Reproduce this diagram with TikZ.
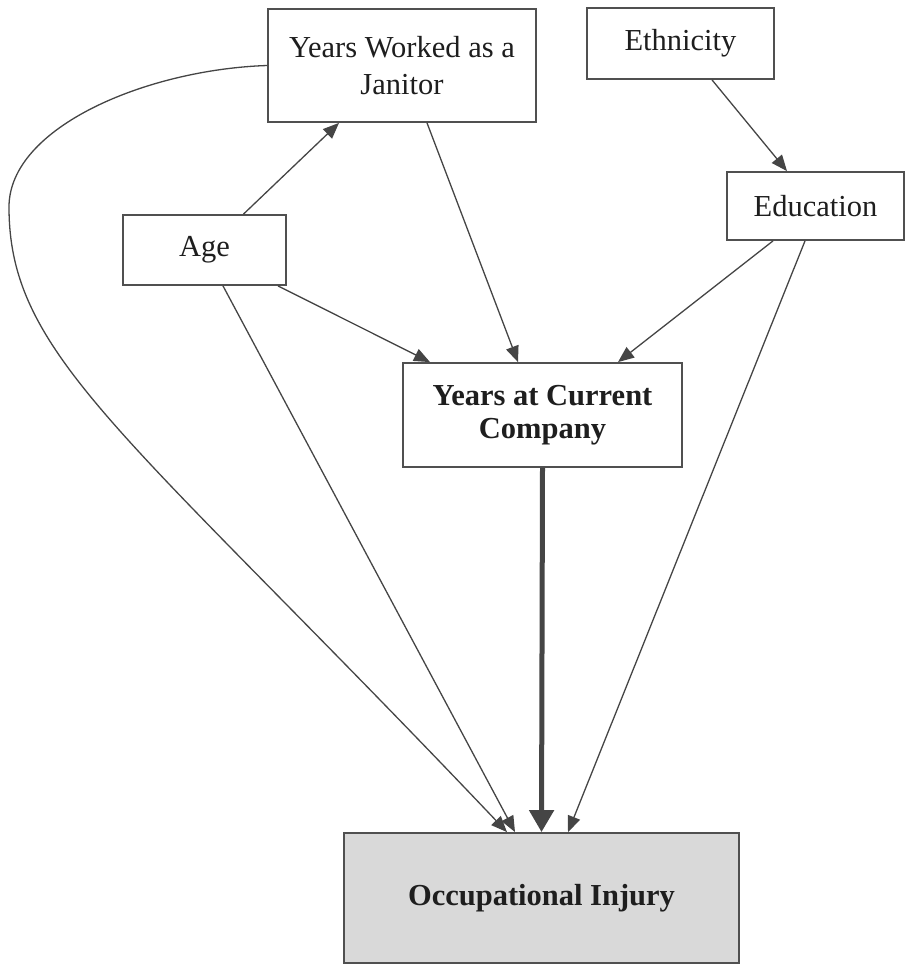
\documentclass[tikz,border=0pt]{standalone}
\usepackage{fontspec}
\setmainfont{Liberation Serif}
\usetikzlibrary{arrows.meta}

\definecolor{edge}{HTML}{454545}
\definecolor{frame}{HTML}{505050}
\definecolor{ink}{HTML}{1E1E1E}
\definecolor{outfill}{HTML}{D9D9D9}

\tikzset{
  var/.style={draw=frame, line width=1.8pt, fill=white, text=ink, align=center,
    inner sep=0pt, font=\fontsize{30.5}{37}\selectfont},
  keyvar/.style={var, font=\fontsize{30.5}{33}\selectfont\bfseries},
  link/.style={draw=edge, line width=1.3pt,
    -{Triangle[length=16pt, width=13pt]}},
  mainlink/.style={draw=edge, line width=5pt,
    -{Triangle[length=22pt, width=24pt]}}
}

\begin{document}
\begin{tikzpicture}[x=1pt, y=-1pt]
\useasboundingbox (0,0) rectangle (907,965);

% variables
\node[var, minimum width=268pt, minimum height=113pt] (jan) at (402,65.5)
  {Years Worked as a\\Janitor};
\node[var, minimum width=187pt, minimum height=71pt] (eth) at (680.5,43.5) {Ethnicity};
\node[var, minimum width=177pt, minimum height=68pt] (edu) at (815.5,206) {Education};
\node[var, minimum width=163pt, minimum height=70pt] (age) at (204.5,250) {Age};
\node[keyvar, minimum width=279pt, minimum height=104pt] (ycc) at (542.5,415)
  {Years at Current\\Company};
\node[keyvar, fill=outfill, minimum width=395pt, minimum height=130pt] (inj) at (541.5,898)
  {Occupational Injury};

% paths
\draw[link] ([xshift=39pt]age.north) -- ([xshift=-63pt]jan.south);
\draw[link] ([xshift=25pt]jan.south) -- ([xshift=-24.5pt]ycc.north);
\draw[link] ([xshift=73.5pt]age.south) -- ([xshift=-112.5pt]ycc.north);
\draw[link] ([xshift=31.5pt]eth.south) -- ([xshift=-28.5pt]edu.north);
\draw[link] ([xshift=-42.5pt]edu.south) -- ([xshift=75.5pt]ycc.north);
\draw[link] ([xshift=-10.5pt]edu.south) -- ([xshift=26.5pt]inj.north);
\draw[link] ([xshift=18.5pt]age.south) -- ([xshift=-26.5pt]inj.north);
\draw[mainlink] (ycc.south) -- (inj.north);

% long bend from the janitor box round the left side
\coordinate (bend) at (9,207);
\draw[link] (jan.west) .. controls +(-120,4) and +(0,-80) .. (bend)
  .. controls +(0,150) and +(-380,-400) .. ([xshift=-34.5pt]inj.north);
\end{tikzpicture}
\end{document}
